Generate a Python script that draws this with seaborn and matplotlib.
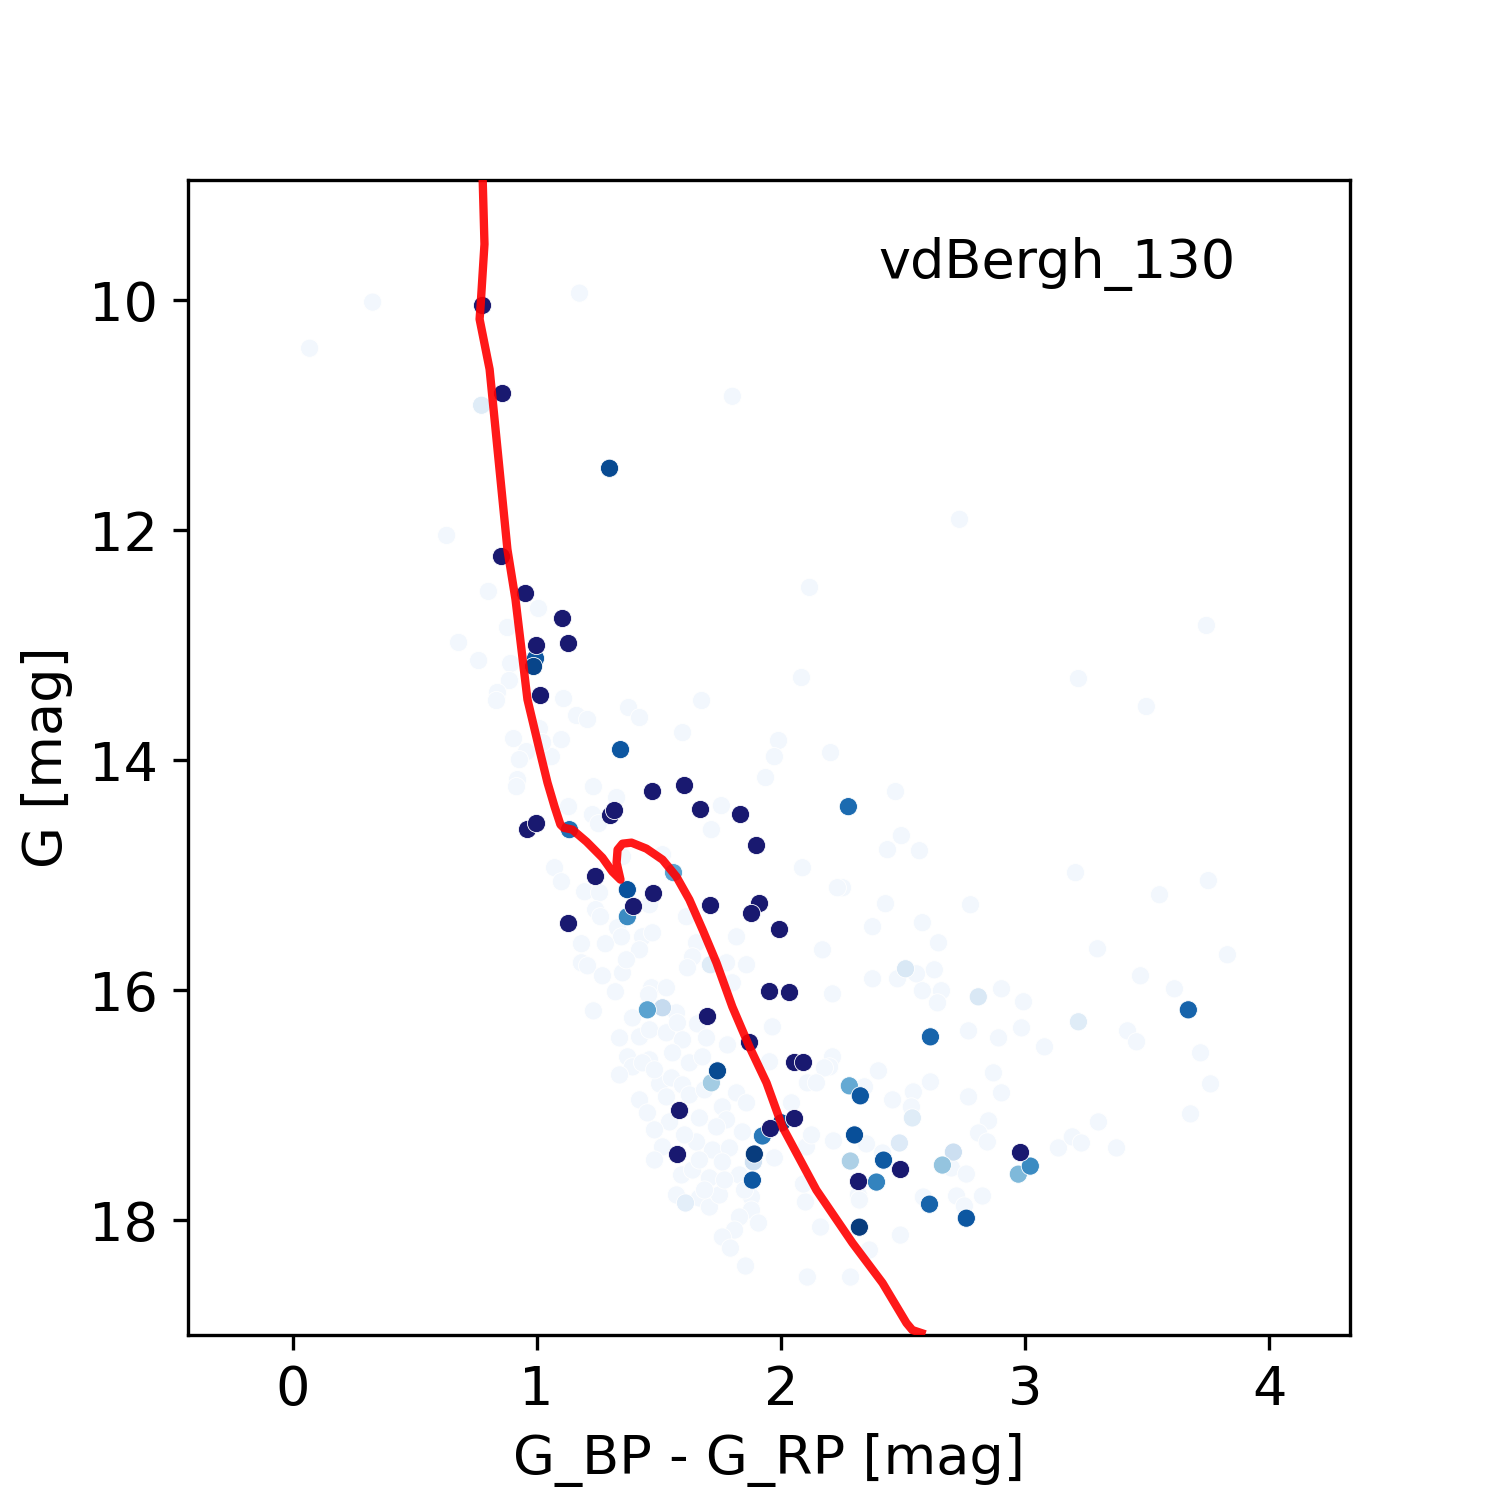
import numpy as np
import pandas as pd
import matplotlib
matplotlib.use("Agg")
import matplotlib.pyplot as plt
import seaborn as sns

# ---------------- data ----------------
# field stars (very low membership probability)
faint_bp_rp = [0.328, 0.070, 1.175, 1.801, 0.631, 0.802, 1.007, 0.880, 0.680, 2.117,
               2.731, 3.742, 3.218, 3.496, 2.084, 0.762, 0.893, 0.888, 0.839, 0.835,
               1.110, 1.163, 1.208, 1.376, 1.421, 1.675, 1.597, 0.905, 1.011, 1.101,
               0.958, 0.929, 1.060, 1.024, 0.921, 0.917, 1.232, 1.327, 1.130, 1.228,
               1.756, 1.990, 1.973, 1.937, 2.203, 2.469, 2.493, 2.436, 2.567, 2.088,
               2.252, 2.428, 2.776, 2.579, 2.645, 2.375, 3.206, 3.750, 3.550, 3.296,
               3.828, 2.628, 2.555, 2.579, 2.657, 2.903, 3.472, 3.611, 2.641, 2.993,
               2.768, 2.891, 2.985, 3.079, 3.419, 3.456, 3.718, 3.759, 3.677, 2.612,
               2.542, 2.870, 2.903, 2.768, 2.534, 2.850, 2.809, 2.845, 2.698, 2.759,
               3.136, 3.193, 3.230, 3.300, 3.374, 2.583, 2.719, 2.825, 2.751, 2.489,
               2.211, 2.375, 2.477, 2.211, 2.199, 2.399, 2.342, 2.457, 2.215, 2.350,
               2.416, 2.317, 2.170, 2.231,
               1.073, 1.101, 1.196, 1.257, 1.241, 1.261, 1.462, 1.613, 1.351, 1.515,
               1.331, 1.347, 1.433, 1.474, 1.183, 1.281, 1.421, 1.654, 1.638, 1.818,
               1.183, 1.208, 1.269, 1.351, 1.367, 1.617, 1.777, 1.859, 1.801, 1.322,
               1.470, 1.531, 1.458, 1.232, 1.392, 1.572, 1.658, 1.965, 1.339, 1.421,
               1.462, 1.531, 1.576, 1.597, 1.695, 1.781, 1.953, 2.178, 1.372, 1.462,
               1.556, 1.625, 1.679, 1.715, 1.253, 1.392, 1.433, 1.503, 1.552, 1.597,
               1.421, 1.531, 1.453, 1.544, 1.666, 1.760, 1.818, 1.859, 1.777, 1.736,
               1.842, 1.515, 1.654, 1.720, 1.789, 1.593, 1.638, 1.707, 1.760, 1.830,
               1.973, 1.572, 1.666, 1.707, 1.748, 1.879, 1.879, 1.830, 1.810, 1.908,
               1.760, 1.793, 1.855, 2.108, 2.285, 2.162, 2.100, 2.092, 2.104, 2.125,
               2.043, 2.108, 2.145, 2.362, 2.321, 1.339, 1.482, 1.625, 1.687, 1.482,
               1.605, 1.666, 1.482, 1.769, 1.687, 1.851]
faint_g = [10.017, 10.418, 9.939, 10.836, 12.046, 12.533, 12.681, 12.847, 12.977, 12.498,
           11.906, 12.829, 13.291, 13.534, 13.282, 13.134, 13.160, 13.308, 13.412, 13.482,
           13.465, 13.612, 13.647, 13.543, 13.630, 13.482, 13.761, 13.813, 13.726, 13.822,
           13.926, 13.996, 13.970, 13.848, 14.170, 14.231, 14.231, 14.326, 14.405, 14.474,
           14.396, 13.830, 13.970, 14.152, 13.935, 14.274, 14.657, 14.779, 14.788, 14.936,
           15.110, 15.249, 15.258, 15.414, 15.589, 15.449, 14.979, 15.048, 15.171, 15.641,
           15.693, 15.824, 15.859, 16.006, 16.006, 15.989, 15.876, 15.989, 16.111, 16.102,
           16.355, 16.416, 16.329, 16.494, 16.355, 16.450, 16.546, 16.816, 17.077, 16.799,
           16.886, 16.720, 16.894, 16.929, 17.016, 17.138, 17.243, 17.321, 17.547, 17.600,
           17.373, 17.277, 17.330, 17.147, 17.373, 17.800, 17.791, 17.791, 17.878, 18.131,
           16.033, 15.902, 15.902, 16.581, 16.668, 16.703, 16.842, 16.955, 17.312, 17.338,
           17.417, 17.782, 15.650, 15.110,
           14.936, 15.058, 15.145, 15.153, 15.301, 15.362, 15.258, 15.362, 14.840, 14.823,
           15.458, 15.537, 15.537, 15.502, 15.597, 15.597, 15.650, 15.589, 15.711, 15.537,
           15.763, 15.789, 15.876, 15.850, 15.737, 15.806, 15.763, 15.780, 15.937, 16.015,
           15.980, 15.980, 16.041, 16.181, 16.242, 16.198, 16.294, 16.320, 16.416, 16.407,
           16.346, 16.372, 16.285, 16.433, 16.416, 16.477, 16.624, 16.677, 16.581, 16.607,
           16.546, 16.633, 16.581, 14.605, 14.553, 16.668, 16.633, 16.816, 16.764, 16.825,
           16.955, 16.929, 17.068, 17.147, 17.112, 17.016, 16.894, 16.981, 17.129, 17.190,
           17.234, 17.364, 17.321, 17.391, 17.373, 17.608, 17.565, 17.634, 17.495, 17.608,
           17.460, 17.782, 17.808, 17.887, 17.782, 17.800, 17.913, 17.974, 18.087, 18.026,
           18.148, 18.244, 18.400, 18.496, 18.496, 18.061, 17.843, 17.687, 17.364, 17.260,
           16.981, 16.807, 16.807, 18.261, 17.826, 16.738, 16.694, 16.912, 16.868, 17.216,
           17.260, 17.478, 17.478, 17.652, 17.739, 17.739]
faint_prob_value = 0.03

# stars with intermediate membership probability
mid_bp_rp = [1.298, 0.995, 0.987, 1.343, 2.276, 1.134, 1.371, 1.371, 1.560, 1.453,
             1.515, 1.740, 1.715, 2.280, 2.325, 2.002, 1.924, 2.301, 1.891, 1.883,
             2.284, 2.420, 2.391, 2.661, 2.706, 3.021, 2.972, 2.608, 2.759, 2.321,
             3.668, 2.612, 1.887, 1.711, 2.808, 3.218, 2.538, 2.485, 2.510, 0.774,
             1.609]
mid_g = [11.462, 13.116, 13.186, 13.909, 14.405, 14.605, 15.127, 15.362, 14.979, 16.172,
         16.154, 16.703, 16.807, 16.833, 16.920, 17.155, 17.269, 17.260, 17.426, 17.653,
         17.487, 17.479, 17.670, 17.522, 17.409, 17.531, 17.601, 17.862, 17.984, 18.062,
         16.172, 16.407, 17.495, 15.780, 16.059, 16.276, 17.112, 17.330, 15.815, 10.914,
         17.852]
mid_prob = [0.90, 0.85, 0.92, 0.85, 0.77, 0.75, 0.87, 0.65, 0.55, 0.55,
            0.25, 0.90, 0.36, 0.52, 0.85, 0.88, 0.72, 0.88, 0.95, 0.85,
            0.33, 0.84, 0.68, 0.40, 0.22, 0.65, 0.45, 0.80, 0.85, 0.95,
            0.80, 0.80, 0.20, 0.12, 0.15, 0.12, 0.12, 0.13, 0.15, 0.12,
            0.10]

# high-probability members
member_bp_rp = [0.774, 0.856, 0.852, 0.950, 1.105, 0.995, 1.126, 1.015, 1.470, 1.601,
                1.670, 1.834, 1.896, 1.298, 1.318, 0.962, 0.999, 1.240, 1.478, 1.396,
                1.126, 1.711, 1.912, 1.879, 1.994, 1.953, 2.031, 1.699, 1.871, 2.055,
                2.092, 1.584, 2.055, 1.957, 1.576, 2.489, 2.317, 2.980]
member_g = [10.044, 10.810, 12.229, 12.551, 12.760, 12.995, 12.986, 13.430, 14.265, 14.213,
            14.422, 14.466, 14.736, 14.474, 14.431, 14.596, 14.544, 15.005, 15.153, 15.266,
            15.414, 15.258, 15.240, 15.327, 15.466, 16.006, 16.015, 16.224, 16.450, 16.624,
            16.624, 17.043, 17.112, 17.199, 17.426, 17.557, 17.661, 17.408]

# isochrone
iso_bp_rp = [0.778, 0.786, 0.770, 0.766, 0.807, 0.880, 0.913, 0.962, 1.011, 1.044,
             1.073, 1.097, 1.110, 1.146, 1.204, 1.269, 1.310, 1.343, 1.327, 1.331,
             1.351, 1.388, 1.449, 1.515, 1.572, 1.625, 1.679, 1.736, 1.801, 1.871,
             1.941, 2.006, 2.145, 2.293, 2.416, 2.514, 2.538, 2.575]
iso_g = [8.90, 9.513, 10.052, 10.165, 10.601, 12.168, 12.603, 13.473, 13.909, 14.196,
         14.405, 14.561, 14.588, 14.605, 14.710, 14.849, 14.971, 15.040, 14.892, 14.779,
         14.727, 14.718, 14.770, 14.866, 15.014, 15.214, 15.475, 15.763, 16.146, 16.494,
         16.807, 17.190, 17.739, 18.200, 18.548, 18.896, 18.957, 18.983]

cluster_name = "vdBergh_130"

# ---------------- plot ----------------
field = pd.concat([
    pd.DataFrame({"bp_rp": faint_bp_rp, "g": faint_g, "prob": faint_prob_value}),
    pd.DataFrame({"bp_rp": mid_bp_rp, "g": mid_g, "prob": mid_prob}),
], ignore_index=True).sort_values("prob", kind="stable")
members = pd.DataFrame({"bp_rp": member_bp_rp, "g": member_g})
iso = pd.DataFrame({"bp_rp": iso_bp_rp, "g": iso_g})

fig, ax = plt.subplots(figsize=(5, 5), dpi=300)

sns.scatterplot(data=field, x="bp_rp", y="g", hue="prob", palette="Blues",
                hue_norm=(0, 1), s=19, linewidth=0.2, edgecolor="white",
                legend=False, ax=ax, zorder=2)
sns.scatterplot(data=members, x="bp_rp", y="g", color="midnightblue",
                s=19, linewidth=0.2, edgecolor="white",
                legend=False, ax=ax, zorder=3)
sns.lineplot(data=iso, x="bp_rp", y="g", sort=False, estimator=None,
             color="red", alpha=0.9, lw=2, ax=ax, zorder=4)

ax.set_xlim(-0.43, 4.33)
ax.set_ylim(19.0, 8.955)
ax.set_xticks([0, 1, 2, 3, 4])
ax.set_yticks([10, 12, 14, 16, 18])
ax.tick_params(labelsize=13)
ax.set_xlabel("G_BP - G_RP [mag]", fontsize=13)
ax.set_ylabel("G [mag]", fontsize=13)
ax.text(0.594, 0.927, cluster_name, transform=ax.transAxes, fontsize=13,
        ha="left", va="center")

fig.savefig("out.png", dpi=300)
